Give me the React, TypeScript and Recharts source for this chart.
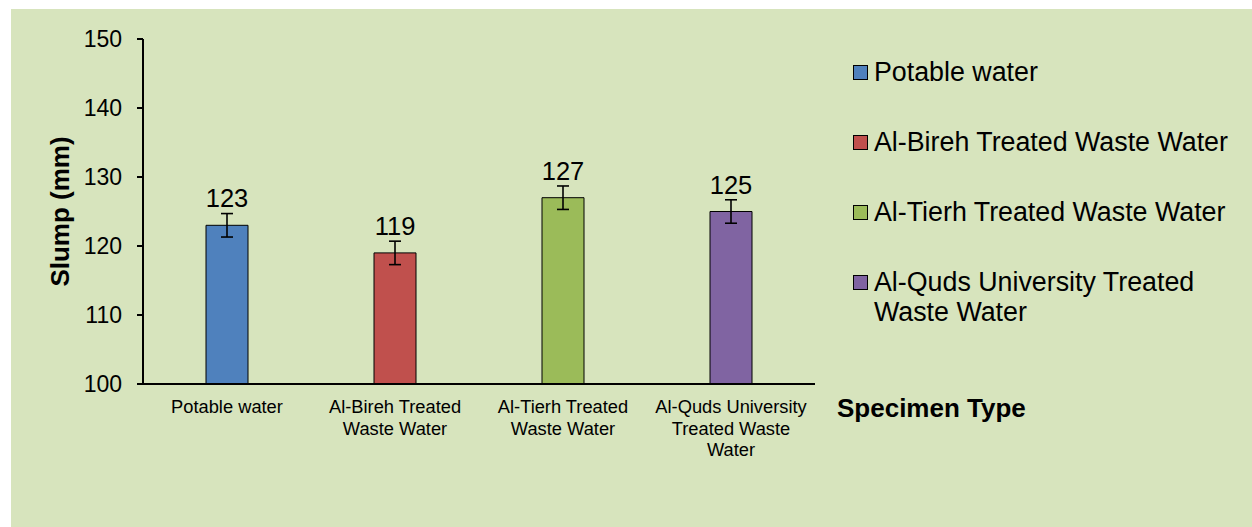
import React from "react";
import {
  Bar,
  BarChart,
  Cell,
  ErrorBar,
  LabelList,
  XAxis,
  YAxis,
} from "recharts";

const categories = [
  "Potable water",
  "Al-Bireh Treated Waste Water",
  "Al-Tierh Treated Waste Water",
  "Al-Quds University Treated Waste Water",
];
const slump = [123, 119, 127, 125];
const slumpErr = [1.7, 1.7, 1.7, 1.7];
const tickLines = [
  ["Potable water"],
  ["Al-Bireh Treated", "Waste Water"],
  ["Al-Tierh Treated", "Waste Water"],
  ["Al-Quds University", "Treated Waste", "Water"],
];
const yTicks = [100, 110, 120, 130, 140, 150];
const colors = ["#4F81BD", "#C0504D", "#9BBB59", "#8064A2"];

const FONT = "'Liberation Sans', Arial, sans-serif";

const data = categories.map((name, i) => ({
  name,
  idx: i,
  value: slump[i],
  err: slumpErr[i],
}));

function CategoryTick(props: any) {
  const { x, y, payload } = props;
  const lines = tickLines[payload.index] ?? [String(payload.value)];
  return (
    <text
      x={x}
      y={y}
      textAnchor="middle"
      fontSize={18.3}
      fontFamily={FONT}
      fill="#000"
    >
      {lines.map((l, i) => (
        <tspan key={i} x={x} y={y + 29 + i * 21.5}>
          {l}
        </tspan>
      ))}
    </text>
  );
}

function YTitle(props: any) {
  const vb = props.viewBox;
  const x = vb.x + 49;
  const y = vb.y + vb.height / 2;
  return (
    <text
      x={x}
      y={y}
      transform={`rotate(-90, ${x}, ${y})`}
      textAnchor="middle"
      dominantBaseline="central"
      fontSize={26}
      fontWeight="bold"
      fontFamily={FONT}
      fill="#000"
    >
      Slump (mm)
    </text>
  );
}

function XTitle(props: any) {
  const vb = props.viewBox;
  return (
    <text
      x={vb.x + vb.width + 22}
      y={vb.y + 33}
      fontSize={26}
      fontWeight="bold"
      fontFamily={FONT}
      fill="#000"
    >
      Specimen Type
    </text>
  );
}

function SideLegend() {
  return (
    <div
      style={{
        position: "absolute",
        left: 853,
        top: 57,
        fontFamily: FONT,
        fontSize: 26.8,
        lineHeight: "30px",
        color: "#000",
      }}
    >
      {categories.map((c, i) => (
        <div
          key={c}
          style={{ display: "flex", alignItems: "flex-start", marginBottom: 40 }}
        >
          <div
            style={{
              width: 13,
              height: 13,
              marginTop: 8,
              marginRight: 6,
              background: colors[i],
              border: "1px solid #000",
              flexShrink: 0,
            }}
          />
          <div style={{ width: 370 }}>{c}</div>
        </div>
      ))}
    </div>
  );
}

export default function App() {
  return (
    <div
      style={{
        position: "absolute",
        left: 0,
        top: 0,
        width: 1252,
        height: 527,
        background: "#fff",
        overflow: "hidden",
      }}
    >
      <div
        style={{
          position: "absolute",
          left: 11,
          top: 9,
          right: 0,
          bottom: 0,
          background: "#D7E4BD",
        }}
      />
      <div style={{ position: "absolute", left: 0, top: 0 }}>
        <BarChart
          width={1252}
          height={527}
          data={data}
          margin={{ top: 39, right: 437, bottom: 63, left: 11 }}
        >
          <YAxis
            type="number"
            domain={[100, 150]}
            ticks={yTicks}
            allowDataOverflow
            width={132}
            axisLine={{ stroke: "#000", strokeWidth: 2 }}
            tickLine={{ stroke: "#000", strokeWidth: 2 }}
            tickSize={6}
            tickMargin={15}
            tick={{ fontSize: 23, fill: "#000", fontFamily: FONT }}
            label={(p: any) => <YTitle {...p} />}
          />
          <XAxis
            dataKey="name"
            height={80}
            axisLine={{ stroke: "#000", strokeWidth: 2 }}
            tickLine={false}
            tickSize={0}
            tickMargin={0}
            interval={0}
            tick={<CategoryTick />}
            label={(p: any) => <XTitle {...p} />}
          />
          <Bar
            dataKey="value"
            barSize={42}
            stroke="#000"
            strokeWidth={1}
            isAnimationActive={false}
          >
            {data.map((d, i) => (
              <Cell key={i} fill={colors[i]} />
            ))}
            <ErrorBar
              dataKey="err"
              width={6}
              stroke="#000"
              strokeWidth={1.6}
              direction="y"
            />
            <LabelList
              dataKey="value"
              position="top"
              offset={18}
              fontSize={25.5}
              fill="#000"
              fontFamily={FONT}
            />
          </Bar>
        </BarChart>
      </div>
      <SideLegend />
    </div>
  );
}
